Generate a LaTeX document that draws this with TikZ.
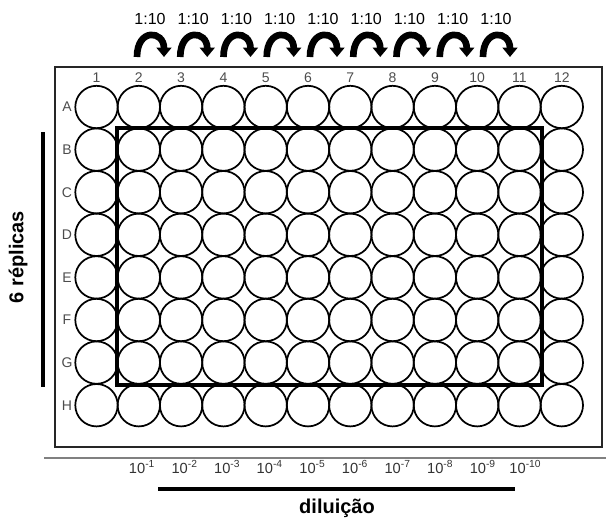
\documentclass[tikz,border=0pt]{standalone}
\usepackage{fontspec}
\setmainfont{Liberation Sans}
\usetikzlibrary{arrows.meta}
\tikzset{
  well/.style={circle,draw,line width=1.3pt,minimum size=31.8pt,inner sep=0pt},
  platelab/.style={text=black!70,font=\fontsize{10.5}{12}\selectfont},
  dillab/.style={text=black!80,font=\fontsize{11}{13}\selectfont},
  ratiolab/.style={font=\fontsize{12}{14}\selectfont},
  bigtitle/.style={font=\bfseries\fontsize{15}{17}\selectfont},
  dilarrow/.style={line width=5pt,-{Triangle[width=11pt,length=7pt]}},
}
\begin{document}
\begin{tikzpicture}[x=0.75pt,y=-0.75pt]
  \useasboundingbox (0,0) rectangle (606,519);
  % plate
  \draw[line width=1.2pt,black!85] (55,67) rectangle (602,447);
  \draw[gray,line width=1pt] (44,458) -- (606,458);
  % wells
  \foreach \r [count=\i from 0] in {A,B,C,D,E,F,G,H} {
    \node[platelab] (l\r) at (67,107+42.6*\i) {\r};
    \foreach \c in {1,...,12}
      \node[well] (\r\c) at (96.5+42.3*\c-42.3,107+42.6*\i) {};
  }
  \foreach \c in {1,...,12}
    \node[platelab] (n\c) at (96.5+42.3*\c-42.3,78) {\c};
  % samples
  \draw[line width=3pt] (B2.west |- B2.north) rectangle (G11.east |- G11.south);
  % serial dilution
  \foreach \k in {1,...,9} {
    \coordinate (s\k) at (137+43.25*\k-43.25,57);
    \coordinate (t\k) at (164+43.25*\k-43.25,57);
    \node[ratiolab] (r\k) at (150+43.25*\k-43.25,19) {1:10};
    \draw[dilarrow] (s\k) .. controls ([yshift=22pt]s\k) and ([yshift=20pt]t\k) .. (t\k);
  }
  \foreach \k in {1,...,10}
    \node[dillab] (d\k) at (142+42.6*\k-42.6,467) {10\textsuperscript{-\k}};
  % labels
  \draw[line width=2.5pt] (43,132) -- (43,387);
  \node[bigtitle,rotate=90] (rep) at (18,257) {6 réplicas};
  \draw[line width=3pt] (158,489) -- (515,489);
  \node[bigtitle] (dil) at (337,508) {diluição};
\end{tikzpicture}
\end{document}
